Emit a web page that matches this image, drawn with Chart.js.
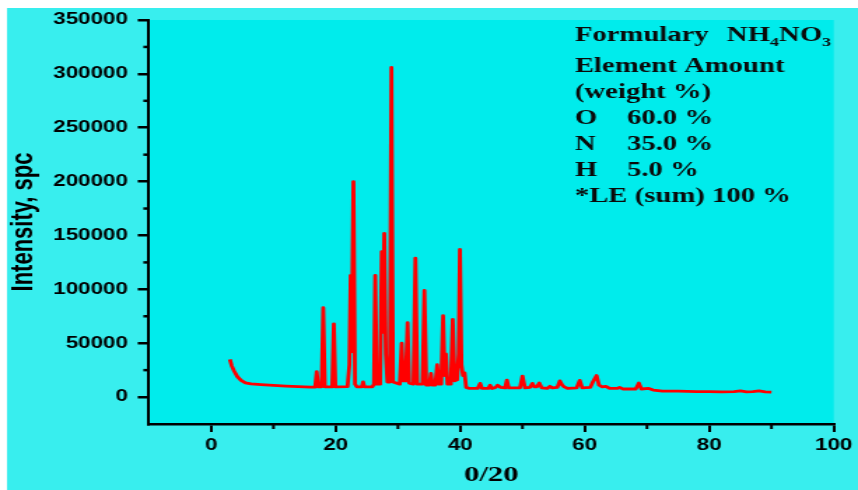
<!DOCTYPE html>
<html>
<head>
<meta charset="utf-8">
<script src="https://cdn.jsdelivr.net/npm/chart.js@4/dist/chart.umd.min.js"></script>
<style>
  html, body { margin: 0; padding: 0; background: #ffffff; overflow: hidden; }
  /* the figure is laid out on a narrower canvas and shown widened */
  #wrap { position: absolute; left: 0; top: 0; width: 613px; height: 490px;
          transform: scaleX(1.39967); transform-origin: 0 0; }
  canvas { display: block; }
</style>
</head>
<body>
<div id="wrap"><canvas id="xrd" width="613" height="490"></canvas></div>
<script>
// XRD pattern of NH4NO3: diffraction angle (2θ, degrees) and intensity (counts)
const twoTheta = [
  3.0, 3.3, 3.7, 4.2, 4.8, 5.5, 6.4, 8.0, 10.0, 12.0, 14.0, 16.0,
  16.7, 16.95, 17.2, 17.75, 18.0, 18.25, 19.45, 19.7, 19.95,
  21.9, 22.2, 22.4, 22.55, 22.85, 23.1, 23.4, 24.2, 24.4, 24.6,
  25.9, 26.15, 26.35, 26.6, 27.15, 27.4, 27.6, 27.8, 28.05, 28.3, 28.7, 28.95, 29.2,
  30.3, 30.6, 30.85, 31.05, 31.25, 31.55, 31.8, 32.5, 32.8, 33.1, 33.95, 34.25, 34.55,
  35.05, 35.3, 35.55, 36.0, 36.3, 36.55, 36.95, 37.25, 37.5, 37.7, 37.95, 38.5, 38.8, 39.1, 39.5, 39.75, 39.95, 40.2, 40.45, 40.7, 40.95,
  41.5, 42.8, 43.2, 43.5, 44.5, 44.8, 45.1, 45.7, 46.0, 46.5, 47.2, 47.5, 47.8, 49.6, 50.0, 50.4, 51.2, 51.6, 51.9, 52.3, 52.7, 53.1,
  54.0, 54.4, 54.8, 55.6, 56.0, 56.4, 56.7, 57.3, 58.7, 59.2, 59.6, 60.9, 61.3, 61.9, 62.3, 62.8, 63.4, 64.0, 65.2, 65.6, 66.1, 68.2, 68.7, 69.1, 70.3,
  71.0, 72.5, 75.0, 78.0, 80.0, 82.0, 84.0, 85.0, 86.0, 87.0, 88.0, 89.0, 90.0
];
const intensity = [
  35000, 29000, 24000, 19000, 15500, 13200, 12200, 11500, 10800, 10200, 9700, 9300,
  9300, 23500, 9500, 9500, 83000, 9500, 9400, 68000, 9400,
  9600, 30000, 113000, 42000, 200000, 12000, 9500, 9500, 14000, 9500,
  9500, 12000, 113000, 12000, 12000, 135000, 60000, 152000, 40000, 14000, 14000, 306000, 14000,
  12000, 50000, 15000, 24000, 15000, 69000, 13000, 12000, 129000, 12000, 12000, 99000, 11000,
  11000, 22000, 11000, 11000, 30000, 12000, 12000, 75500, 20000, 40000, 12000, 12000, 72000, 15000, 16000, 40000, 137000, 30000, 20000, 22500, 9000,
  8000, 8000, 12700, 8000, 8000, 11000, 8000, 9000, 11000, 9000, 8500, 15800, 8500, 8500, 19500, 8500, 9000, 12700, 9500, 9500, 13000, 8500,
  8000, 10000, 8500, 9000, 15000, 11000, 9500, 8000, 8500, 15500, 8500, 9000, 14000, 20000, 11000, 9500, 10000, 8000, 8000, 9000, 7500, 7500, 13000, 7500, 8000,
  6500, 5500, 5500, 5000, 5000, 4800, 5000, 5800, 4800, 5000, 5800, 4800, 4500
];

// labelled (major) ticks; the unlabelled ones in between are minor
const xTickLabels = [0, 20, 40, 60, 80, 100];
const yTickLabels = [0, 50000, 100000, 150000, 200000, 250000, 300000, 350000];

// composition box
const formulaName = 'Formulary';
const formulaParts = [['NH', false], ['4', true], ['NO', false], ['3', true]];
const infoLines = ['Element Amount', '(weight %)'];
const elements = ['O', 'N', 'H'];
const weightPct = ['60.0 %', '35.0 %', '5.0 %'];
const totalLine = '*LE (sum) 100 %';

const OUTER_BG = '#38eeee';
const PLOT_BG = '#00ecec';
const SANS = "'Liberation Sans', Arial, sans-serif";
const SERIF = "'Liberation Serif', 'Times New Roman', serif";

const backdrop = {
  id: 'backdrop',
  beforeDraw(chart) {
    const { ctx, width, height, chartArea: a } = chart;
    ctx.save();
    ctx.fillStyle = '#ffffff';
    ctx.fillRect(0, 0, width, height);
    ctx.fillStyle = OUTER_BG;
    ctx.fillRect(5, 8, width, height);
    ctx.fillStyle = PLOT_BG;
    ctx.fillRect(a.left, a.top, a.right - a.left, a.bottom - a.top);
    ctx.restore();
  }
};

const minorTicks = {
  id: 'minorTicks',
  afterDraw(chart) {
    const { ctx, chartArea: a, scales: { x, y } } = chart;
    ctx.save();
    ctx.strokeStyle = '#000';
    ctx.lineWidth = 2;
    x.ticks.forEach(t => {
      if (xTickLabels.includes(t.value) || t.value <= x.min) return;
      const px = x.getPixelForValue(t.value);
      ctx.beginPath(); ctx.moveTo(px, a.bottom); ctx.lineTo(px, a.bottom + 5); ctx.stroke();
    });
    ctx.lineWidth = 2.5;
    y.ticks.forEach(t => {
      if (yTickLabels.includes(t.value) || t.value <= y.min) return;
      const py = y.getPixelForValue(t.value);
      ctx.beginPath(); ctx.moveTo(a.left, py); ctx.lineTo(a.left - 4, py); ctx.stroke();
    });
    ctx.restore();
  }
};

const compositionBox = {
  id: 'compositionBox',
  afterDraw(chart) {
    const { ctx } = chart;
    const x0 = 410.7, xVal = 447.9;
    const base = [41, 72, 97.5, 123.5, 149.5, 175.5, 201.5];
    ctx.save();
    ctx.fillStyle = '#0a0a0a';
    ctx.textBaseline = 'alphabetic';
    ctx.textAlign = 'left';
    const big = 'bold 20.5px ' + SERIF;
    const small = 'bold 13px ' + SERIF;
    ctx.font = big;
    ctx.fillText(formulaName, x0, base[0]);
    let cx = x0 + ctx.measureText(formulaName).width + 13;
    formulaParts.forEach(([txt, sub]) => {
      ctx.font = sub ? small : big;
      ctx.fillText(txt, cx, base[0] + (sub ? 5 : 0));
      cx += ctx.measureText(txt).width;
    });
    ctx.font = big;
    infoLines.forEach((s, i) => ctx.fillText(s, x0, base[1 + i]));
    elements.forEach((el, i) => {
      ctx.fillText(el, x0, base[3 + i]);
      ctx.fillText(weightPct[i], xVal, base[3 + i]);
    });
    ctx.fillText(totalLine, x0, base[6]);
    ctx.restore();
  }
};

new Chart(document.getElementById('xrd'), {
  type: 'line',
  data: {
    datasets: [{
      data: twoTheta.map((t, i) => ({ x: t, y: intensity[i] })),
      borderColor: '#ff0000',
      borderWidth: 2.8,
      borderJoinStyle: 'round',
      pointRadius: 0,
      tension: 0,
      fill: false
    }]
  },
  options: {
    responsive: false,
    animation: false,
    devicePixelRatio: 1,
    layout: { padding: { left: 0, top: 20, right: 16.6, bottom: 0 } },
    plugins: { legend: { display: false }, tooltip: { enabled: false } },
    scales: {
      x: {
        type: 'linear',
        min: -10, max: 100,
        afterFit(scale) { scale.height = 66; },
        border: { display: true, color: '#000', width: 2.5 },
        grid: {
          drawOnChartArea: false, drawTicks: true, tickLength: 8,
          lineWidth: 2, tickWidth: 2,
          tickColor: c => xTickLabels.includes(c.tick.value) ? '#000' : 'rgba(0,0,0,0)'
        },
        ticks: {
          stepSize: 10, autoSkip: false, maxRotation: 0, includeBounds: false,
          padding: 4, color: '#000',
          font: { family: SANS, size: 16, weight: 'bold' },
          callback: v => xTickLabels.includes(v) ? String(v) : ''
        },
        title: {
          display: true, text: '0/20', color: '#000',
          font: { family: SERIF, size: 22, weight: 'bold', lineHeight: 1 },
          padding: { top: 0, bottom: 4 }
        }
      },
      y: {
        type: 'linear',
        min: -25000, max: 350000,
        afterFit(scale) { scale.width = 106.4; },
        border: { display: true, color: '#000', width: 2 },
        grid: {
          drawOnChartArea: false, drawTicks: true, tickLength: 8,
          lineWidth: 2.5, tickWidth: 2.5,
          tickColor: c => yTickLabels.includes(c.tick.value) ? '#000' : 'rgba(0,0,0,0)'
        },
        ticks: {
          stepSize: 25000, autoSkip: false, includeBounds: false,
          padding: 7, color: '#000',
          font: { family: SANS, size: 16, weight: 'bold' },
          callback: v => yTickLabels.includes(v) ? String(v) : ''
        },
        title: {
          display: true, text: 'Intensity, spc', color: '#000',
          font: { family: SANS, size: 22, weight: 'bold' },
          padding: { top: 4, bottom: 0 }
        }
      }
    }
  },
  plugins: [backdrop, minorTicks, compositionBox]
});
</script>
</body>
</html>
